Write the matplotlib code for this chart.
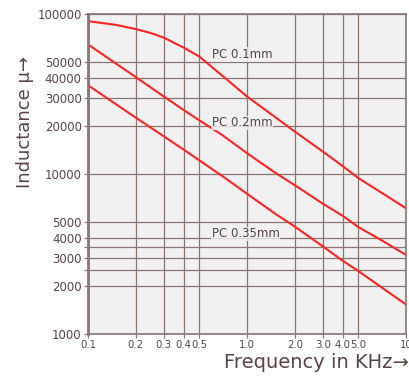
import numpy as np
import matplotlib.pyplot as plt

# frequency (kHz) and inductance values
freq_01 = [0.1, 0.15, 0.2, 0.25, 0.3, 0.4, 0.5, 0.7, 1.0, 1.5, 2.0, 3.0, 4.0, 5.0, 7.0, 10.0]
pc_01 = [90200, 85500, 80500, 75900, 71100, 61600, 54300, 41100, 30500, 22700, 18400, 13800, 11200, 9440, 7650, 6100]
freq = [0.1, 0.2, 0.3, 0.4, 0.5, 0.7, 1.0, 1.5, 2.0, 3.0, 4.0, 5.0, 7.0, 10.0]
pc_02 = [64600, 40300, 30500, 25100, 21700, 17500, 13500, 10200, 8510, 6520, 5480, 4670, 3860, 3120]
pc_035 = [35900, 22500, 17200, 14200, 12200, 9710, 7530, 5660, 4690, 3530, 2870, 2480, 1960, 1530]

xticks = [0.1, 0.2, 0.3, 0.4, 0.5, 1.0, 2.0, 3.0, 4.0, 5.0, 10.0]
xlabels = ['0.1', '0.2', '0.3', '0.4', '0.5', '1.0', '2.0', '3.0', '4.0', '5.0', '10']
yticks = [1000, 2000, 2500, 3000, 3500, 4000, 5000, 10000, 20000, 30000, 40000, 50000, 100000]
ylabels = ['1000', '2000', '', '3000', '', '4000', '5000', '10000', '20000', '30000', '40000', '50000', '100000']

# colours
grid_c = '#8c7474'
txt_c = '#5a4444'
red = '#ff2424'

fig = plt.figure(figsize=[4.09, 3.78], dpi=100)
ax = fig.add_axes([0.215, 0.116, 0.778, 0.847])
ax.set_facecolor('#f1f1f1')

ax.plot(freq_01, pc_01, color=red, lw=1.5)
ax.plot(freq, pc_02, color=red, lw=1.5)
ax.plot(freq, pc_035, color=red, lw=1.5)

ax.set_xscale('log')
ax.set_yscale('log')
ax.set_xlim(0.1, 10)
ax.set_ylim(1000, 100000)
ax.set_xticks(xticks)
ax.set_xticklabels(xlabels)
ax.set_yticks(yticks)
ax.set_yticklabels(ylabels)
ax.minorticks_off()
ax.tick_params(axis='both', colors=grid_c, labelcolor=txt_c, labelsize=8.5,
               length=3, width=0.9, pad=1.5)
ax.tick_params(axis='x', labelsize=7.3)
ax.grid(True, color=grid_c, lw=0.9)
ax.set_axisbelow(True)
for s in ax.spines.values():
    s.set_color(grid_c)
    s.set_linewidth(1.2)
ax.spines['left'].set_linewidth(2)

# curve labels
box = dict(facecolor='#f1f1f1', edgecolor='none', pad=0.5, alpha=0.8)
ax.text(0.6, 55900, 'PC 0.1mm', fontsize=8.5, color=txt_c, va='center', bbox=box)
ax.text(0.6, 20900, 'PC 0.2mm', fontsize=8.5, color=txt_c, va='center', bbox=box)
ax.text(0.6, 4240, 'PC 0.35mm', fontsize=8.5, color=txt_c, va='center', bbox=box)

fig.text(224/409, 1-362/378, 'Frequency in KHz\u2192', fontsize=14, color=txt_c,
         ha='left', va='center')
fig.text(25/409, 1-122/378, 'Inductance \u03bc\u2192', fontsize=13, color=txt_c,
         rotation=90, ha='center', va='center')

plt.savefig('out.png', dpi=100)
